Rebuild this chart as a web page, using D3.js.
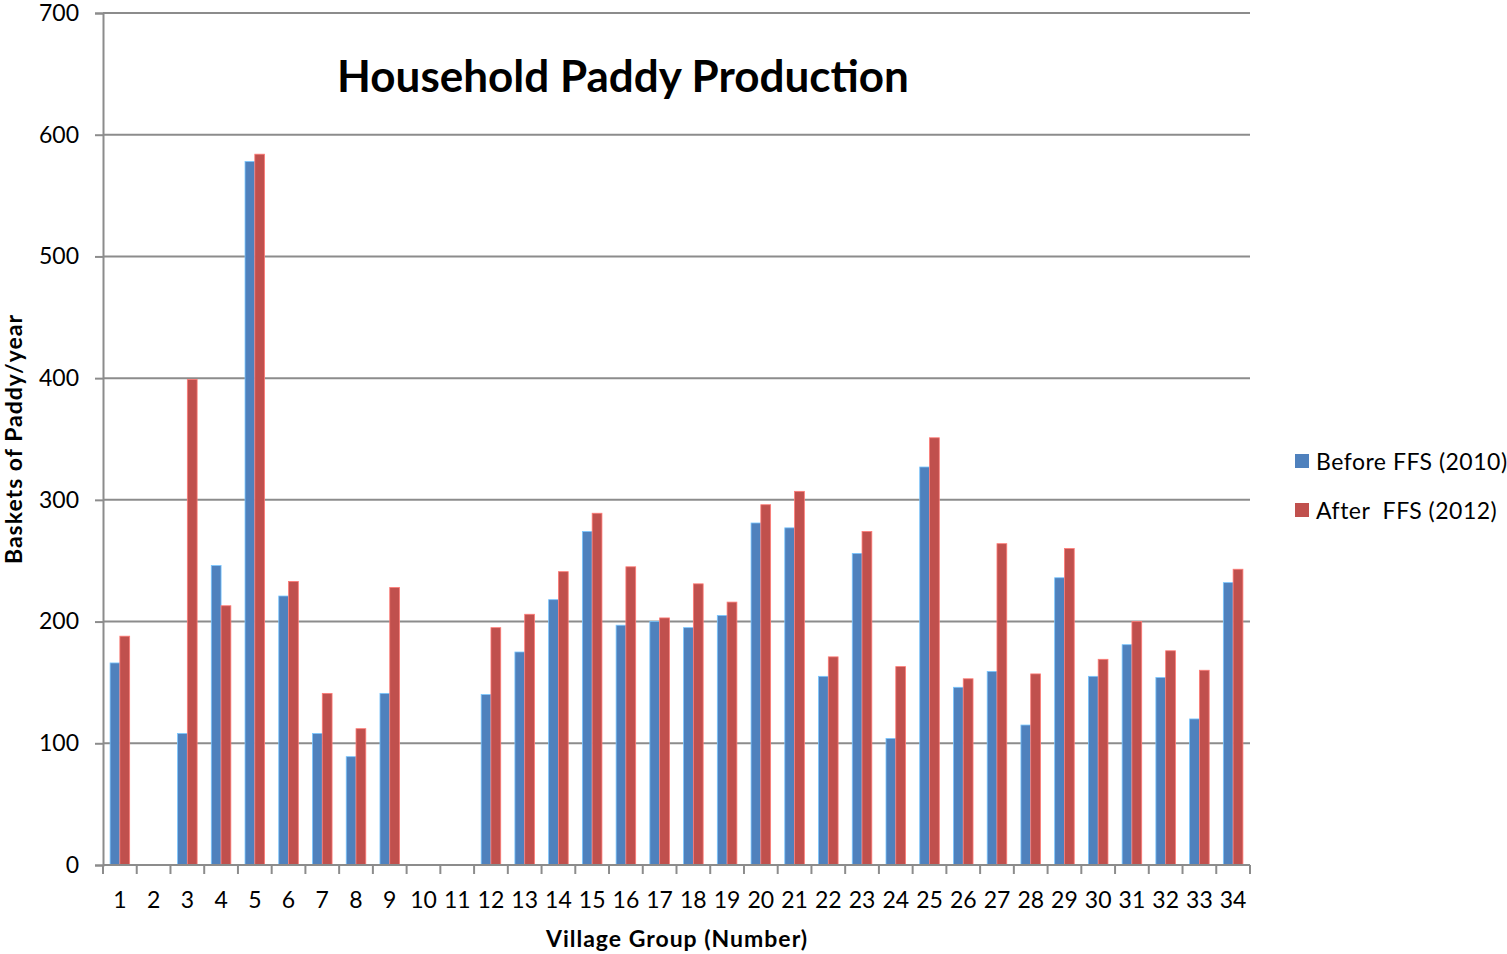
<!DOCTYPE html>
<html>
<head>
<meta charset="utf-8">
<script src="https://cdn.jsdelivr.net/npm/d3@7"></script>
<style>
  body { margin: 0; background: #fff; }
  svg { display: block; font-family: Lato, "Open Sans", sans-serif; }
  text { white-space: pre; }
</style>
</head>
<body>
<svg id="chart" width="1507" height="954"></svg>
<script>
const groups = d3.range(1, 35).map(String);
// null = no data for that village group
const before2010 = [166, null, 108, 246, 578, 221, 108, 89, 141, null, null, 140, 175, 218, 274, 197, 200, 195, 205, 281,
  277, 155, 256, 104, 327, 146, 159, 115, 236, 155, 181, 154, 120, 232];
const after2012 = [188, null, 399, 213, 584, 233, 141, 112, 228, null, null, 195, 206, 241, 289, 245, 203, 231, 216, 296,
  307, 171, 274, 163, 351, 153, 264, 157, 260, 169, 200, 176, 160, 243];
const seriesNames = ["Before FFS (2010)", "After  FFS (2012)"];
const colors = ["#4F81BD", "#C0504D"];
const yTicks = [0, 100, 200, 300, 400, 500, 600, 700];

const margin = { left: 103, top: 13, right: 257, bottom: 89 };
const width = 1507 - margin.left - margin.right;
const height = 954 - margin.top - margin.bottom;

const svg = d3.select("#chart");
const g = svg.append("g").attr("transform", `translate(${margin.left},${margin.top})`);

const x = d3.scaleBand().domain(groups).range([0, width]);
const xSub = d3.scaleBand().domain([0, 1]).range([x.bandwidth() * 0.21, x.bandwidth() * 0.79]);
const y = d3.scaleLinear().domain([0, 700]).range([height, 0]);

// gridlines
g.append("g").selectAll("line")
  .data(yTicks.slice(1))
  .enter().append("line")
    .attr("x1", 0).attr("x2", width)
    .attr("y1", d => y(d)).attr("y2", d => y(d))
    .attr("stroke", "#8c8c8c").attr("stroke-width", 2);

// bars
const rows = groups.map((k, i) => ({ key: k, vals: [before2010[i], after2012[i]] }));
g.append("g").selectAll("g")
  .data(rows)
  .enter().append("g")
    .attr("transform", d => `translate(${x(d.key)},0)`)
  .selectAll("rect")
  .data(d => d.vals.map((v, j) => ({ v, j })).filter(e => e.v != null))
  .enter().append("rect")
    .attr("x", d => xSub(d.j))
    .attr("width", xSub.bandwidth())
    .attr("y", d => y(d.v))
    .attr("height", d => y(0) - y(d.v))
    .attr("fill", d => colors[d.j])
    .attr("stroke", d => d3.color(colors[d.j]).brighter(1.2))
    .attr("stroke-width", 0.8);

// y axis
const yAxis = g.append("g")
  .call(d3.axisLeft(y).tickValues(yTicks).tickSize(8).tickPadding(16));
yAxis.select(".domain").attr("stroke", "#8c8c8c").attr("stroke-width", 2);
yAxis.selectAll(".tick line").attr("stroke", "#8c8c8c").attr("stroke-width", 2);
yAxis.selectAll(".tick text").attr("font-size", 23).attr("fill", "#000")
  .attr("font-family", "Lato, 'Open Sans', sans-serif");

// x axis: ticks at category boundaries
const xAxis = g.append("g").attr("transform", `translate(0,${height})`);
xAxis.append("line").attr("x1", 0).attr("x2", width)
  .attr("stroke", "#8c8c8c").attr("stroke-width", 2);
xAxis.selectAll(".bt")
  .data(groups.concat(["end"]))
  .enter().append("line")
    .attr("x1", (d, i) => i * x.step()).attr("x2", (d, i) => i * x.step())
    .attr("y1", 0).attr("y2", 9)
    .attr("stroke", "#8c8c8c").attr("stroke-width", 2);
xAxis.selectAll("text")
  .data(groups)
  .enter().append("text")
    .attr("x", d => x(d) + x.bandwidth() / 2)
    .attr("y", 43)
    .attr("text-anchor", "middle")
    .attr("font-size", 23)
    .text(d => d);

// titles
svg.append("text")
  .attr("x", 623).attr("y", 92)
  .attr("text-anchor", "middle")
  .attr("font-size", 44).attr("font-weight", "bold")
  .text("Household Paddy Production");

svg.append("text")
  .attr("x", 677).attr("y", 947)
  .attr("text-anchor", "middle")
  .attr("font-size", 23).attr("font-weight", "bold")
  .attr("letter-spacing", 1)
  .text("Village Group (Number)");

svg.append("text")
  .attr("transform", `translate(22,439) rotate(-90)`)
  .attr("text-anchor", "middle")
  .attr("font-size", 23).attr("font-weight", "bold")
  .attr("letter-spacing", 1)
  .text("Baskets of Paddy/year");

// legend
const legend = svg.append("g").attr("transform", "translate(1295,454)");
seriesNames.forEach((name, i) => {
  const row = legend.append("g").attr("transform", `translate(0,${i * 49})`);
  row.append("rect").attr("width", 14).attr("height", 14).attr("fill", colors[i]);
  row.append("text").attr("x", 21).attr("y", 16).attr("font-size", 23)
    .attr("letter-spacing", 0.5).text(name);
});
</script>
</body>
</html>
